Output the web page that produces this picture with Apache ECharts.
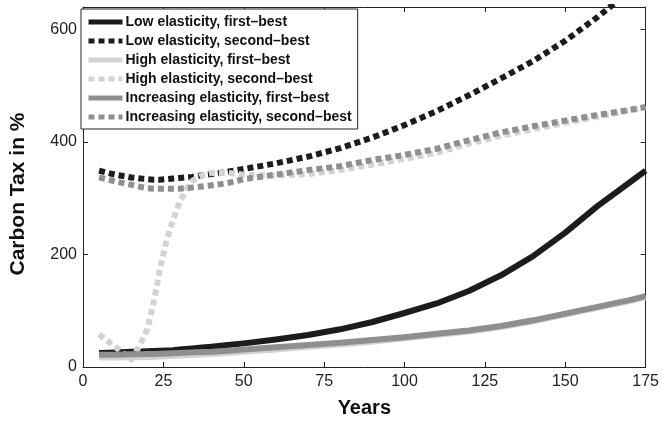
<!DOCTYPE html>
<html>
<head>
<meta charset="utf-8">
<script src="https://cdn.jsdelivr.net/npm/echarts@6/dist/echarts.min.js"></script>
<style>
html,body{margin:0;padding:0;background:#fff;}
#chart{width:662px;height:423px;}
</style>
</head>
<body>
<div id="chart"></div>
<script>
var years = [5,10,15,18,20,22,24,26,28,30,32,34,37,40,45,50,60,70,80,90,100,110,120,130,140,150,160,170,175];

var lowFirst   = [25,26,27,27.5,28,28.5,29,29.5,30,31,32,33,34.5,36,39,42,49,57,67,80,96,113,135,163,197,239,286,328,349];
var lowSecond  = [349,342,337,335,334,333,333,334,335,336,337,338,341,343,347,352,362,374,389,408,430,455,483,513,544,580,622,668,695];
var highFirst  = [17,17,17.5,17.5,18,18,18.5,19,19.5,20,21,21.5,22,23,25,27,31,36,40,45,51,57,63,71,81,93,105,117,124];
var highSecond = [58,36,13,42,67,115,176,225,262,292,315,331,341,345,345,342,340,343,350,360,370,381,397,411,423,434,445,456,462];
var incFirst   = [22,22,22.5,22.5,23,23,23.5,24,24.5,25,25.5,26,26.5,27,29,31,35,39,43,48,53,59,65,73,83,95,107,119,126];
var incSecond  = [337,330,324,320,318,317,317,317,317,317,318,319,321,323,327,334,342,350,357,368,377,388,403,417,428,438,448,457,462];

var seriesNames = [
  'Low elasticity, first\u2013best',
  'Low elasticity, second\u2013best',
  'High elasticity, first\u2013best',
  'High elasticity, second\u2013best',
  'Increasing elasticity, first\u2013best',
  'Increasing elasticity, second\u2013best'
];
var seriesValues = [lowFirst, lowSecond, highFirst, highSecond, incFirst, incSecond];
var seriesColors = ['#1c1c1c','#1c1c1c','#d3d3d3','#d3d3d3','#8f8f8f','#8f8f8f'];
var seriesDotted = [false,true,false,true,false,true];

var xTicks = {min:0, max:175, interval:25};
var yTicks = {min:0, max:640, interval:200};

var FONT = '"Liberation Sans", Arial, Helvetica, sans-serif';
var AX = '#222';

function pairs(vals){
  return years.map(function(y,i){ return [y, vals[i]]; });
}

var series = seriesNames.map(function(n,i){
  return {
    name: n,
    type: 'line',
    data: pairs(seriesValues[i]),
    symbol: 'none',
    showSymbol: false,
    smooth: false,
    clip: true,
    animation: false,
    lineStyle: {
      color: seriesColors[i],
      width: 6,
      type: seriesDotted[i] ? [6,4] : 'solid',
      cap: 'butt',
      join: 'round'
    },
    itemStyle: {color: seriesColors[i]}
  };
});

function xAxisCfg(pos, showLabels){
  return {
    type: 'value', position: pos,
    min: xTicks.min, max: xTicks.max, interval: xTicks.interval,
    axisLine: {show: true, onZero: false, lineStyle: {color: AX, width: 1}},
    axisTick: {show: true, inside: true, length: 5, lineStyle: {color: AX, width: 1}},
    splitLine: {show: false},
    axisLabel: {show: showLabels, fontSize: 16, color: '#222', fontFamily: FONT, margin: 7},
    name: showLabels ? 'Years' : '',
    nameLocation: 'middle',
    nameGap: 31,
    nameTextStyle: {fontSize: 20, fontWeight: 'bold', color: '#111', fontFamily: FONT}
  };
}
function yAxisCfg(pos, showLabels){
  return {
    type: 'value', position: pos,
    min: yTicks.min, max: yTicks.max, interval: yTicks.interval,
    axisLine: {show: true, onZero: false, lineStyle: {color: AX, width: 1}},
    axisTick: {show: true, inside: true, length: 5, lineStyle: {color: AX, width: 1}},
    splitLine: {show: false},
    axisLabel: {show: showLabels, fontSize: 16, color: '#222', fontFamily: FONT, margin: 6, showMaxLabel: false},
    name: showLabels ? 'Carbon Tax in %' : '',
    nameLocation: 'middle',
    nameGap: 54,
    nameTextStyle: {fontSize: 21, fontWeight: 'bold', color: '#111', fontFamily: FONT, padding: [0, 14, 0, 0]}
  };
}

var chart = echarts.init(document.getElementById('chart'), null, {renderer: 'canvas'});
chart.setOption({
  animation: false,
  backgroundColor: '#fff',
  grid: {left: 77, right: 16, top: 7, bottom: 55},
  xAxis: [xAxisCfg('bottom', true), xAxisCfg('top', false)],
  yAxis: [yAxisCfg('left', true), yAxisCfg('right', false)],
  legend: {
    orient: 'vertical',
    left: 81, top: 9,
    itemWidth: 34, itemHeight: 14, itemGap: 5,
    padding: [6, 6, 5, 5],
    borderColor: '#222', borderWidth: 1,
    backgroundColor: '#fff',
    itemStyle: {opacity: 0},
    lineStyle: {width: 5},
    selectedMode: false,
    textStyle: {fontSize: 14, fontWeight: 'bold', color: '#111', fontFamily: FONT, padding: [0,0,0,-2]},
    data: seriesNames
  },
  series: series
});
</script>
</body>
</html>
